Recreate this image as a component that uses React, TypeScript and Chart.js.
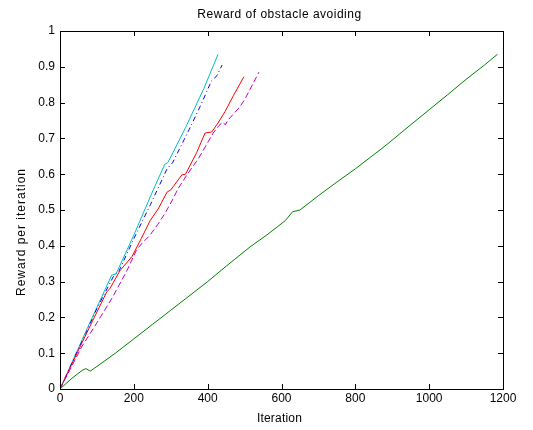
import { useEffect, useRef } from "react";
import { Chart, registerables } from "chart.js";

Chart.register(...registerables);

const title = "Reward of obstacle avoiding";
const xLabel = "Iteration";
const yLabel = "Reward per iteration";

const xTickValues = [0, 200, 400, 600, 800, 1000, 1200];
const xTickLabels = ["0", "200", "400", "600", "800", "1000", "1200"];
const yTickValues = [0, 0.1, 0.2, 0.3, 0.4, 0.5, 0.6, 0.7, 0.8, 0.9, 1];
const yTickLabels = ["0", "0.1", "0.2", "0.3", "0.4", "0.5", "0.6", "0.7", "0.8", "0.9", "1"];

const cyanX = [0, 20, 40, 68, 100, 140, 152, 200, 250, 284, 292, 340, 390, 428];
const cyanY = [0, 0.045, 0.092, 0.156, 0.228, 0.318, 0.322, 0.43, 0.55, 0.628, 0.632, 0.73, 0.84, 0.935];

const blueX = [0, 40, 70, 100, 145, 160, 200, 245, 290, 305, 350, 380, 410, 425, 439];
const blueY = [0, 0.09, 0.155, 0.225, 0.315, 0.33, 0.42, 0.515, 0.615, 0.632, 0.725, 0.79, 0.86, 0.875, 0.905];

const redX = [0, 30, 60, 100, 127, 135, 162, 195, 220, 244, 266, 290, 300, 330, 340, 370, 393, 411, 428, 447, 470, 498];
const redY = [0, 0.065, 0.13, 0.215, 0.272, 0.28, 0.33, 0.37, 0.42, 0.47, 0.503, 0.55, 0.556, 0.598, 0.6, 0.66, 0.715, 0.718, 0.743, 0.775, 0.82, 0.872];

const magentaX = [0, 30, 60, 100, 141, 160, 181, 208, 225, 244, 265, 284, 303, 320, 345, 374, 401, 415, 430, 440, 448, 455, 487, 500, 539];
const magentaY = [0, 0.06, 0.12, 0.185, 0.254, 0.29, 0.33, 0.39, 0.41, 0.43, 0.46, 0.49, 0.525, 0.56, 0.6, 0.642, 0.69, 0.715, 0.735, 0.745, 0.738, 0.751, 0.788, 0.808, 0.885];

const greenX = [0, 30, 60, 70, 82, 100, 150, 200, 250, 300, 340, 400, 450, 515, 560, 610, 630, 650, 700, 750, 800, 872, 902, 950, 1000, 1050, 1100, 1150, 1185];
const greenY = [0, 0.028, 0.052, 0.057, 0.05, 0.063, 0.1, 0.14, 0.18, 0.22, 0.252, 0.3, 0.343, 0.397, 0.43, 0.47, 0.495, 0.5, 0.54, 0.578, 0.615, 0.672, 0.697, 0.738, 0.78, 0.822, 0.865, 0.905, 0.935];

const toPoints = (xs: number[], ys: number[]) => xs.map((x, i) => ({ x, y: ys[i] }));

const FONT = '12px "Liberation Sans", Arial, sans-serif';

const framePlugin = {
  id: "matlabFrame",
  afterDatasetsDraw(chart: any) {
    const { ctx, chartArea: a, scales } = chart;
    ctx.save();
    ctx.strokeStyle = "#000";
    ctx.lineWidth = 1;
    ctx.strokeRect(a.left + 0.5, a.top + 0.5, a.right - a.left, a.bottom - a.top);
    const L = 5;
    ctx.beginPath();
    for (const v of xTickValues) {
      const px = Math.round(scales.x.getPixelForValue(v)) + 0.5;
      ctx.moveTo(px, a.bottom);
      ctx.lineTo(px, a.bottom - L);
      ctx.moveTo(px, a.top);
      ctx.lineTo(px, a.top + L);
    }
    for (const v of yTickValues) {
      const py = Math.round(scales.y.getPixelForValue(v)) + 0.5;
      ctx.moveTo(a.left, py);
      ctx.lineTo(a.left + L, py);
      ctx.moveTo(a.right, py);
      ctx.lineTo(a.right - L, py);
    }
    ctx.stroke();
    ctx.fillStyle = "#000";
    ctx.font = FONT;
    ctx.textAlign = "center";
    ctx.textBaseline = "middle";
    const cx = (a.left + a.right) / 2;
    ctx.letterSpacing = "0.5px";
    ctx.fillText(title, cx - 2, 15);
    ctx.letterSpacing = "0.2px";
    ctx.fillText(xLabel, cx - 2, 419);
    ctx.letterSpacing = "1px";
    ctx.translate(22, 232);
    ctx.rotate(-Math.PI / 2);
    ctx.fillText(yLabel, 0, 0);
    ctx.restore();
  },
};

export default function App() {
  const ref = useRef<HTMLCanvasElement | null>(null);
  useEffect(() => {
    document.body.style.margin = "0";
    const canvas = ref.current;
    if (!canvas) return;
    Chart.defaults.font.family = '"Liberation Sans", Arial, sans-serif';
    Chart.defaults.font.size = 12;
    Chart.defaults.color = "#000";
    const mk = (label: string, xs: number[], ys: number[], color: string, dash: number[]) => ({
      label,
      data: toPoints(xs, ys),
      borderColor: color,
      backgroundColor: color,
      borderWidth: 1,
      borderDash: dash,
      pointRadius: 0,
      tension: 0,
      fill: false,
    });
    const chart = new Chart(canvas, {
      type: "line",
      data: {
        datasets: [
          mk("green", greenX, greenY, "#008000", []),
          mk("magenta", magentaX, magentaY, "#BF00BF", [6, 3]),
          mk("red", redX, redY, "#FF0000", []),
          mk("blue", blueX, blueY, "#0000FF", [5, 3, 1, 3]),
          mk("cyan", cyanX, cyanY, "#00BFBF", []),
        ],
      },
      plugins: [framePlugin],
      options: {
        animation: false,
        responsive: false,
        devicePixelRatio: 1,
        layout: { padding: { left: 0, right: 30, top: 31, bottom: 0 } },
        plugins: { legend: { display: false }, title: { display: false }, tooltip: { enabled: false } },
        scales: {
          x: {
            type: "linear",
            min: 0,
            max: 1200,
            grid: { display: false, drawTicks: false },
            border: { display: false },
            afterBuildTicks: (s: any) => {
              s.ticks = xTickValues.map((v) => ({ value: v }));
            },
            afterFit: (s: any) => {
              s.height = 41;
            },
            ticks: {
              padding: 2,
              maxRotation: 0,
              autoSkip: false,
              font: { size: 12 },
              color: "#000",
              callback: (v: any) => xTickLabels[xTickValues.indexOf(Number(v))] ?? "",
            },
          },
          y: {
            type: "linear",
            min: 0,
            max: 1,
            grid: { display: false, drawTicks: false },
            border: { display: false },
            afterBuildTicks: (s: any) => {
              s.ticks = yTickValues.map((v) => ({ value: v }));
            },
            afterFit: (s: any) => {
              s.width = 60;
            },
            ticks: {
              padding: 5,
              autoSkip: false,
              font: { size: 12 },
              color: "#000",
              callback: (v: any) => {
                const i = yTickValues.findIndex((t) => Math.abs(t - Number(v)) < 1e-9);
                return i >= 0 ? yTickLabels[i] : "";
              },
            },
          },
        },
      },
    });
    return () => chart.destroy();
  }, []);
  return <canvas ref={ref} width={533} height={430} style={{ display: "block" }} />;
}
